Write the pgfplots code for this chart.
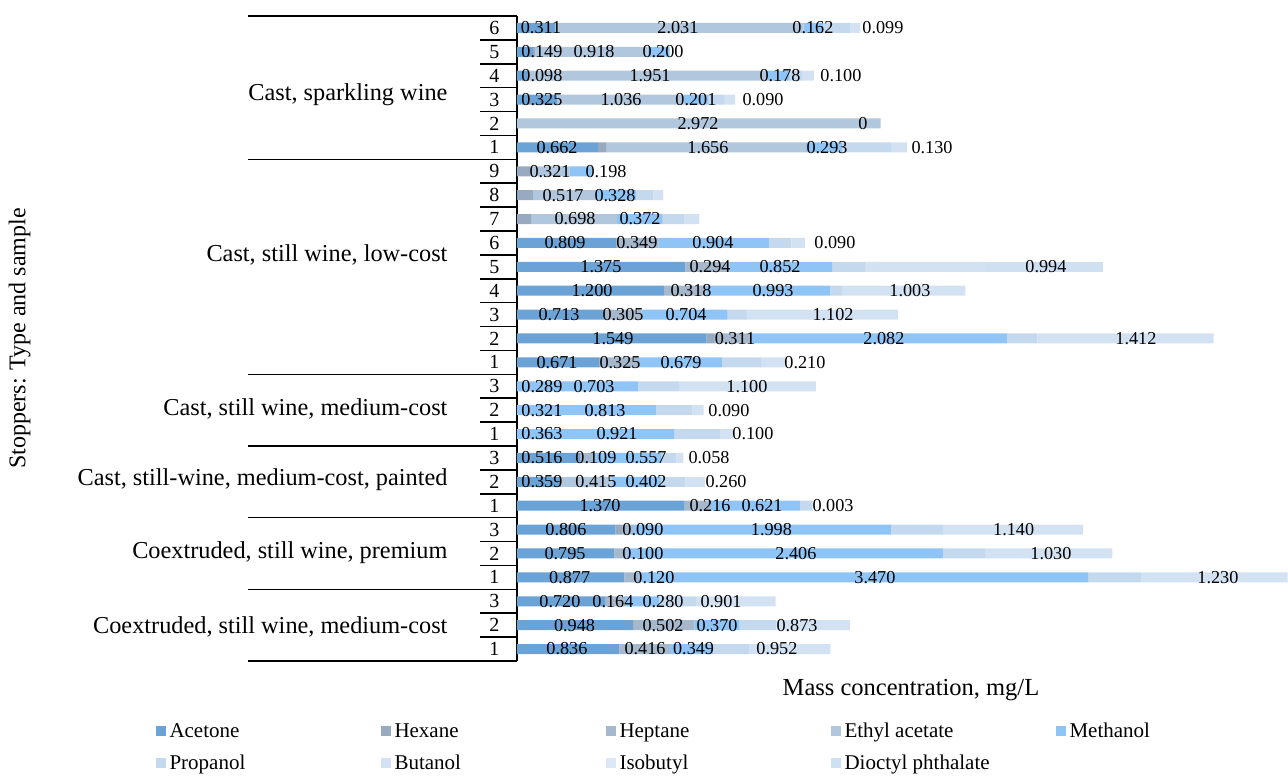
\documentclass[border=0pt]{standalone}
\usepackage{fontspec}
\setmainfont{Liberation Serif}
\usepackage{pgfplots}
\usepackage{pgfplotstable}
\pgfplotsset{compat=1.18}

\definecolor{cAce}{HTML}{6BA3D6}
\definecolor{cHex}{HTML}{97AABF}
\definecolor{cHep}{HTML}{A6B8CC}
\definecolor{cEth}{HTML}{B0C7DE}
\definecolor{cMet}{HTML}{8FC4F7}
\definecolor{cPro}{HTML}{C5D9EE}
\definecolor{cBut}{HTML}{D2E2F3}
\definecolor{cIso}{HTML}{DCE8F6}
\definecolor{cDio}{HTML}{CFE0F2}

% rows bottom to top: coextruded medium-cost 1-3, premium 1-3, painted 1-3,
% medium-cost 1-3, low-cost 1-9, sparkling 1-6
\pgfplotstableread{
y  ace   hex  hep   eth   met   pro  but   iso  dio
0  0.836 0    0.416 0     0.349 0.30 0.66  0    0
1  0.948 0    0.502 0     0.370 0.30 0.60  0    0
2  0.720 0    0.164 0     0.280 0.30 0.65  0    0
3  0.877 0    0.120 0     3.670 0.43 1.20  0    0
4  0.795 0    0.100 0     2.590 0.34 1.04  0    0
5  0.806 0.05 0.090 0     2.110 0.43 1.14  0    0
6  1.370 0    0.216 0     0.730 0.10 0     0    0
7  0.359 0    0     0.415 0.402 0.20 0.16  0    0
8  0.516 0    0.109 0     0.557 0.12 0.058 0    0
9  0     0    0     0     1.284 0.38 0.10  0    0
10 0     0    0     0     1.134 0.30 0.09  0    0
11 0     0    0     0     0.992 0.33 1.12  0    0
12 0.671 0    0.325 0     0.679 0.32 0.20  0    0
13 1.549 0.06 0.311 0     2.082 0.25 1.44  0    0
14 0.713 0    0.305 0     0.704 0.16 1.23  0    0
15 1.200 0    0.340 0     1.020 0.10 1.003 0    0
16 1.375 0    0.360 0     0.840 0.27 0.98  0    0.96
17 0.809 0    0.349 0     0.904 0.18 0.11  0    0
18 0     0.12 0     0.698 0.372 0.18 0.12  0    0
19 0.01  0.12 0     0.517 0.328 0.14 0.08  0    0
20 0     0.11 0     0.321 0.180 0    0     0    0
21 0.662 0.07 0     1.630 0.293 0.40 0.13  0    0
22 0     0    0     2.972 0     0    0     0    0
23 0.325 0    0     1.036 0.201 0.13 0.09  0    0
24 0.098 0    0     1.951 0.178 0.10 0.10  0    0
25 0.130 0.02 0     0.918 0.180 0    0     0    0
26 0.311 0    0     2.031 0.162 0.22 0.08  0    0
}\bars

% data labels as printed in the chart (x = where the label sits)
\pgfplotstableread{
x     y  lab
0.196 26 0.311
1.315 26 2.031
2.418 26 0.162
2.990 26 0.099
0.204 25 0.149
0.629 25 0.918
1.193 25 0.200
0.204 24 0.098
1.087 24 1.951
2.149 24 0.178
2.647 24 0.100
0.204 23 0.325
0.850 23 1.036
1.462 23 0.201
2.010 23 0.090
1.479 22 2.972
2.827 22 0
0.327 21 0.662
1.560 21 1.656
2.533 21 0.293
3.391 21 0.130
0.270 20 0.321
0.727 20 0.198
0.376 19 0.517
0.801 19 0.328
0.474 18 0.698
1.005 18 0.372
0.392 17 0.809
0.980 17 0.349
1.601 17 0.904
2.598 17 0.090
0.686 16 1.375
1.577 16 0.294
2.149 16 0.852
4.322 16 0.994
0.613 15 1.200
1.422 15 0.318
2.092 15 0.993
3.211 15 1.003
0.343 14 0.713
0.866 14 0.305
1.381 14 0.704
2.582 14 1.102
0.784 13 1.549
1.781 13 0.311
2.998 13 2.082
5.057 13 1.412
0.327 12 0.671
0.842 12 0.325
1.340 12 0.679
2.353 12 0.210
0.204 11 0.289
0.629 11 0.703
1.879 11 1.100
0.204 10 0.321
0.719 10 0.813
1.732 10 0.090
0.204 9  0.363
0.817 9  0.921
1.928 9  0.100
0.204 8  0.516
0.645 8  0.109
1.054 8  0.557
1.569 8  0.058
0.204 7  0.359
0.645 7  0.415
1.054 7  0.402
1.708 7  0.260
0.678 6  1.370
1.577 6  0.216
2.002 6  0.621
2.582 6  0.003
0.400 5  0.806
1.029 5  0.090
2.079 5  1.998
4.058 5  1.140
0.392 4  0.795
1.029 4  0.100
2.279 4  2.406
4.363 4  1.030
0.430 3  0.877
1.119 3  0.120
2.925 3  3.470
5.727 3  1.230
0.351 2  0.720
0.784 2  0.164
1.193 2  0.280
1.667 2  0.901
0.470 1  0.948
1.193 1  0.502
1.634 1  0.370
2.288 1  0.873
0.408 0  0.836
1.046 0  0.416
1.443 0  0.349
2.124 0  0.952
}\labels

\pgfplotsset{
  base/.style={
    at={(517pt,115pt)}, anchor=south west,
    scale only axis, width=771pt, height=645pt,
    xmin=0, xmax=6.3, ymin=-0.5, ymax=26.5,
  },
}
\newcommand{\lbl}[1]{\makebox[207pt][l]{#1}}

\begin{document}
\begin{tikzpicture}
\begin{axis}[
  base, clip=false,
  xbar stacked, bar width=10pt,
  axis lines*=left,
  x axis line style={draw=none},
  y axis line style={line width=1.5pt},
  xtick=\empty,
  ytick={0,...,26},
  yticklabels={1,2,3,1,2,3,1,2,3,1,2,3,1,2,3,4,5,6,7,8,9,1,2,3,4,5,6},
  yticklabel style={font=\fontsize{20}{20}\selectfont, xshift=-14pt},
  major tick length=0pt,
  minor ytick={-0.5,0.5,...,26.5},
  minor tick length=37pt,
  tick align=outside, ytick pos=left,
  minor tick style={line width=1.5pt, black},
  xlabel={Mass concentration, mg/L},
  xlabel style={at={(axis description cs:0.511,-0.045)}, anchor=center,
    font=\fontsize{24.5}{26}\selectfont},
  ylabel={Stoppers: Type and sample},
  ylabel style={at={(axis description cs:-0.645,0.5)}, anchor=center,
    font=\fontsize{24}{26}\selectfont},
  legend columns=5,
  legend style={at={(axis description cs:-0.473,-0.090)}, anchor=north west,
    draw=none, fill=none, column sep=2pt, row sep=12pt,
    font=\fontsize{21}{24}\selectfont},
  legend cell align=left,
  legend image code/.code={\fill[#1] (0pt,-5pt) rectangle (10pt,5pt);},
]
\addplot[draw=none, fill=cAce] table[x=ace, y=y] {\bars};
\addlegendentry{\lbl{Acetone}}
\addplot[draw=none, fill=cHex] table[x=hex, y=y] {\bars};
\addlegendentry{\lbl{Hexane}}
\addplot[draw=none, fill=cHep] table[x=hep, y=y] {\bars};
\addlegendentry{\lbl{Heptane}}
\addplot[draw=none, fill=cEth] table[x=eth, y=y] {\bars};
\addlegendentry{\lbl{Ethyl acetate}}
\addplot[draw=none, fill=cMet] table[x=met, y=y] {\bars};
\addlegendentry{\lbl{Methanol}}
\addplot[draw=none, fill=cPro] table[x=pro, y=y] {\bars};
\addlegendentry{\lbl{Propanol}}
\addplot[draw=none, fill=cBut] table[x=but, y=y] {\bars};
\addlegendentry{\lbl{Butanol}}
\addplot[draw=none, fill=cIso] table[x=iso, y=y] {\bars};
\addlegendentry{\lbl{Isobutyl}}
\addplot[draw=none, fill=cDio] table[x=dio, y=y] {\bars};
\addlegendentry{\lbl{Dioctyl phthalate}}

% group separators and names on the category axis
\pgfplotsinvokeforeach{-0.5,2.5,5.5,8.5,11.5,20.5,26.5}{
  \draw[line width=1.5pt] ([xshift=-269pt]axis cs:0,#1) -- (axis cs:0,#1);
}
\node[anchor=east, font=\fontsize{24.3}{26}\selectfont] at ([xshift=-66pt]axis cs:0,23.19) {Cast, sparkling wine};
\node[anchor=east, font=\fontsize{24.3}{26}\selectfont] at ([xshift=-66pt]axis cs:0,16.5) {Cast, still wine, low-cost};
\node[anchor=east, font=\fontsize{24.3}{26}\selectfont] at ([xshift=-66pt]axis cs:0,10.05) {Cast, still wine, medium-cost};
\node[anchor=east, font=\fontsize{24.3}{26}\selectfont] at ([xshift=-66pt]axis cs:0,7.08) {Cast, still-wine, medium-cost, painted};
\node[anchor=east, font=\fontsize{24.3}{26}\selectfont] at ([xshift=-66pt]axis cs:0,4.02) {Coextruded, still wine, premium};
\node[anchor=east, font=\fontsize{24.3}{26}\selectfont] at ([xshift=-66pt]axis cs:0,0.92) {Coextruded, still wine, medium-cost};
\end{axis}

\begin{axis}[base, hide axis]
\addplot[draw=none, mark=none, nodes near coords, point meta=explicit symbolic,
  nodes near coords style={anchor=center, inner sep=0pt, text=black,
    font=\fontsize{18.2}{20}\selectfont}]
  table[x=x, y=y, meta=lab] {\labels};
\end{axis}

\pgfresetboundingbox
\path[use as bounding box] (0,0) rectangle (1288pt,776pt);
\end{tikzpicture}
\end{document}
